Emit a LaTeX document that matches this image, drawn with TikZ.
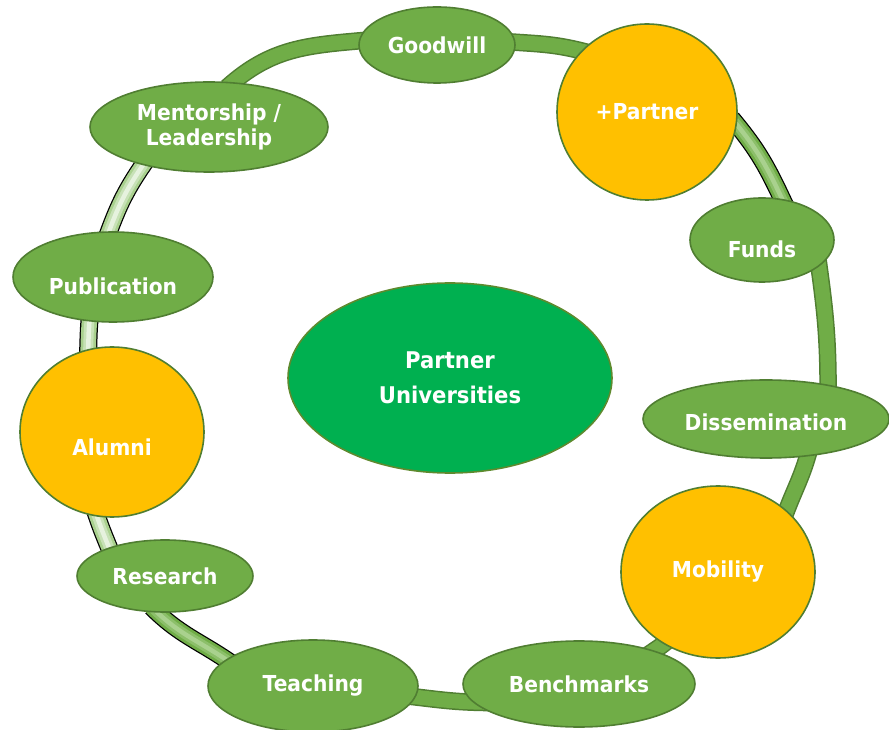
\documentclass[tikz,border=0pt]{standalone}
\usepackage{fontspec}
\setmainfont{DejaVu Sans}[FakeStretch=0.92]
\usepackage{tikz}
\usetikzlibrary{shapes.geometric,backgrounds}
\definecolor{leafgreen}{HTML}{70AD47}
\definecolor{leafedge}{HTML}{507E32}
\definecolor{hubgold}{HTML}{FFC000}
\definecolor{coregreen}{HTML}{00B050}
\definecolor{coreedge}{HTML}{5E8A2E}
\definecolor{palegreen}{HTML}{A9D18E}
\definecolor{palelight}{HTML}{E6F2DE}

\begin{document}
\begin{tikzpicture}[x=1pt,y=1pt,
  myleaf/.style={draw=leafedge,line width=1.6pt,ellipse,fill=leafgreen,inner sep=0pt,text=white,
    font=\fontsize{22}{25}\selectfont\bfseries,align=center},
  myhub/.style={myleaf,fill=hubgold},
  mycore/.style={myleaf,fill=coregreen,draw=coreedge,font=\fontsize{23}{35}\selectfont\bfseries},
  drop/.style={text height=#1,text depth=0pt},
  ringseg/.default=8pt,
  ringseg/.style={draw=leafgreen,line width=14.5pt,shorten <=-#1,shorten >=-#1,
    preaction={draw=leafedge,line width=17.5pt,shorten <=-#1,shorten >=-#1}},
  ringpale/.style 2 args={draw=#1,line width=15.5pt,shorten <=-8pt,shorten >=-8pt,
    preaction={draw=black,line width=18pt,shorten <=-8pt,shorten >=-8pt},
    postaction={draw=#1!50!#2,line width=10pt,shorten <=-8pt,shorten >=-8pt},
    postaction={draw=#2,line width=4.5pt,shorten <=-8pt,shorten >=-8pt}},
 ]
\useasboundingbox (0,0) rectangle (889,729);

% nodes round the ring
\node[myleaf,minimum width=156pt,minimum height=76pt] (goodwill) at (437,684) {Goodwill};
\node[myhub,minimum width=180pt,minimum height=176pt] (partner) at (647,617) {+Partner};
\node[myleaf,minimum width=144pt,minimum height=84pt,drop=36pt] (funds) at (762,489) {Funds};
\node[myleaf,minimum width=246pt,minimum height=78pt,drop=24pt] (dissem) at (766,310) {Dissemination};
\node[myhub,minimum width=194pt,minimum height=172pt] (mobility) at (718,157) {Mobility};
\node[myleaf,minimum width=232pt,minimum height=86pt] (bench) at (579,45) {Benchmarks};
\node[myleaf,minimum width=210pt,minimum height=92pt] (teach) at (313,43) {Teaching};
\node[myleaf,minimum width=176pt,minimum height=72pt] (research) at (165,153) {Research};
\node[myhub,minimum width=184pt,minimum height=170pt,drop=48pt] (alumni) at (112,297) {Alumni};
\node[myleaf,minimum width=200pt,minimum height=90pt,drop=36pt] (public) at (113,452) {Publication};
\node[myleaf,minimum width=238pt,minimum height=90pt] (mentor) at (209,602) {Mentorship /\\Leadership};

% centre
\node[mycore,minimum width=324pt,minimum height=190pt] (core) at (450,351) {Partner\\Universities};

% the ring
\begin{scope}[on background layer]
\draw[ringseg] (goodwill.2) to[out=-4,in=165] (partner.137);
\draw[ringpale={leafgreen}{palegreen}] (partner.-8) to[out=-50,in=115] (funds.64);
\draw[ringseg] (funds.-25) to[out=-82,in=90] (dissem.29);
\draw[ringseg] (dissem.-42) to[out=-105,in=70] (mobility.42);
\draw[ringseg] (mobility.-127) to[out=-140,in=35] (bench.24);
\draw[ringseg=25pt] (bench.-170) to[out=180,in=-6] (teach.-6);
\draw[ringpale={leafgreen}{palegreen}] (teach.163) to[out=145,in=-45] (research.-102);
\draw[ringpale={palegreen}{palelight}] (research.153) to[out=112,in=-72] (alumni.-100);
\draw[ringpale={palegreen}{palelight}] (alumni.106) to[out=88,in=-95] (public.-118);
\draw[ringpale={palegreen}{palelight}] (public.95) to[out=70,in=-125] (mentor.-150);
\draw[ringseg] (mentor.62) to[out=42,in=185] (goodwill.177);
\end{scope}

\end{tikzpicture}
\end{document}
